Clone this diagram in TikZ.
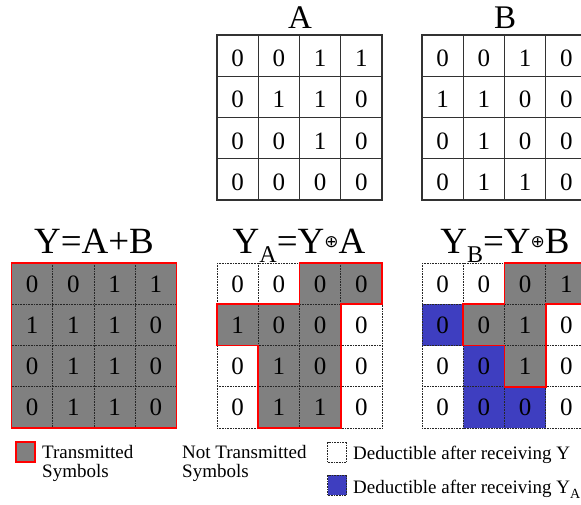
\documentclass[tikz,border=0pt]{standalone}
\usepackage{fontspec}
\setmainfont{Liberation Serif}
\newfontfamily\symbolfont{DejaVu Sans}
\definecolor{cellgrey}{RGB}{128,128,128}
\definecolor{cellblue}{RGB}{62,62,192}
\definecolor{gridline}{RGB}{50,50,50}
\tikzset{
  cellsize/.style={x=41.25pt,y=-41.25pt},
  digit/.style={inner sep=0pt, anchor=base, font=\fontsize{25}{25}\selectfont},
  plaingrid/.style={draw=gridline, line width=1.2pt},
  dotgrid/.style={draw=black!85, line width=0.8pt, dash pattern=on 0.8pt off 0.8pt},
  sentline/.style={draw=red, line width=1.8pt, line join=miter},
  sentfill/.style={fill=cellgrey},
  bluefill/.style={fill=cellblue},
  toptitle/.style={inner sep=0pt, anchor=base, font=\fontsize{33}{33}\selectfont},
  ytitle/.style={inner sep=0pt, anchor=base, font=\fontsize{37}{37}\selectfont},
  legtext/.style={inner sep=0pt, anchor=base west, font=\fontsize{19}{19}\selectfont},
  legbox/.style={inner sep=0pt, minimum width=19pt, minimum height=20pt},
}
% digits of a 4x4 block, one node per cell: #1 name prefix, #2 baseline drop, #3 rows
\newcommand\griddigits[3]{%
  \foreach \rowvals [count=\r] in {#3} {
    \foreach \v [count=\c] in \rowvals {
      \node[digit, yshift=-#2] (#1-\r-\c) at (\c-0.5,\r-0.5) {\v};
    }
  }}
% inner and outer lines of a 4x4 block
\newcommand\cellgridlines[1]{%
  \foreach \i in {0,...,4} {
    \draw[#1] (\i,0) -- (\i,4);
    \draw[#1] (0,\i) -- (4,\i);
  }}
\newcommand\xorsign{\raisebox{6pt}{\fontsize{17}{17}\selectfont\symbolfont ⊕}}
\begin{document}
\begin{tikzpicture}[x=1pt,y=-1pt]
\useasboundingbox (0,0) rectangle (581,504);
\fill[white] (0,0) rectangle (581,504);
\clip (0,0) rectangle (581,504);

% block A
\begin{scope}[shift={(217,35)}, cellsize]
  \cellgridlines{plaingrid}
  \draw[plaingrid, line cap=rect] (0,0) rectangle (4,4);
  \griddigits{a}{11pt}{{0,0,1,1},{0,1,1,0},{0,0,1,0},{0,0,0,0}}
\end{scope}
\node[toptitle] (titleA) at (300,28) {A};

% block B
\begin{scope}[shift={(422,35)}, cellsize]
  \cellgridlines{plaingrid}
  \draw[plaingrid, line cap=rect] (0,0) rectangle (4,4);
  \griddigits{b}{11pt}{{0,0,1,0},{1,1,0,0},{0,1,0,0},{0,1,1,0}}
\end{scope}
\node[toptitle] (titleB) at (505,28) {B};

% block Y = A + B, all sent
\begin{scope}[shift={(11.5,263)}, cellsize]
  \fill[sentfill] (0,0) rectangle (4,4);
  \cellgridlines{dotgrid}
  \draw[sentline] (0,0) rectangle (4,4);
  \griddigits{y}{8.5pt}{{0,0,1,1},{1,1,1,0},{0,1,1,0},{0,1,1,0}}
\end{scope}
\node[ytitle] (titleY) at (94,253) {Y=A+B};

% block Y_A
\begin{scope}[shift={(217,263)}, cellsize]
  \fill[sentfill] (2,0) -- (4,0) -- (4,1) -- (3,1) -- (3,4) -- (1,4) -- (1,2) -- (0,2) -- (0,1) -- (2,1) -- cycle;
  \cellgridlines{dotgrid}
  \draw[sentline] (2,0) -- (4,0) -- (4,1) -- (3,1) -- (3,4) -- (1,4) -- (1,2) -- (0,2) -- (0,1) -- (2,1) -- cycle;
  \griddigits{ya}{8.5pt}{{0,0,0,0},{1,0,0,0},{0,1,0,0},{0,1,1,0}}
\end{scope}
\node[ytitle] (titleYA) at (299,253) {Y\raisebox{-9pt}{\fontsize{24}{24}\selectfont A}=Y\xorsign A};

% block Y_B
\begin{scope}[shift={(422,263)}, cellsize]
  \fill[bluefill] (0,1) rectangle (1,2);
  \fill[bluefill] (1,2) -- (2,2) -- (2,3) -- (3,3) -- (3,4) -- (1,4) -- cycle;
  \fill[sentfill] (2,0) -- (4,0) -- (4,1) -- (3,1) -- (3,3) -- (2,3) -- (2,2) -- (1,2) -- (1,1) -- (2,1) -- cycle;
  \cellgridlines{dotgrid}
  \draw[sentline] (2,0) -- (4,0) -- (4,1) -- (3,1) -- (3,3) -- (2,3) -- (2,2) -- (1,2) -- (1,1) -- (2,1) -- cycle;
  \griddigits{yb}{8.5pt}{{0,0,0,1},{0,0,1,0},{0,0,1,0},{0,0,0,0}}
\end{scope}
\node[ytitle] (titleYB) at (505,253) {Y\raisebox{-9pt}{\fontsize{24}{24}\selectfont B}=Y\xorsign B};

% key
\node[legbox, fill=cellgrey, draw=red, line width=1.5pt] (keySent) at (25.5,452) {};
\node[legtext] (keySentA) at (42,458) {Transmitted};
\node[legtext] (keySentB) at (42,477) {Symbols};
\node[legtext] (keyNotA) at (182,458) {Not Transmitted};
\node[legtext] (keyNotB) at (182,477) {Symbols};
\node[legbox, fill=white, dotgrid] (keyY) at (337,452) {};
\node[legtext] (keyYText) at (353,459) {Deductible after receiving Y};
\node[legbox, fill=cellblue, dotgrid] (keyYA) at (337,485) {};
\node[legtext] (keyYAText) at (353,493) {Deductible after receiving Y\raisebox{-5pt}{\fontsize{14}{14}\selectfont A}};
\end{tikzpicture}
\end{document}
